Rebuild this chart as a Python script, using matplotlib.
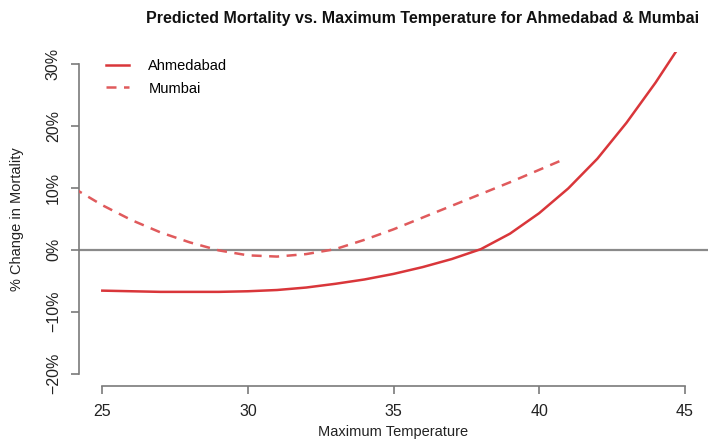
import matplotlib
matplotlib.use("Agg")
import matplotlib.pyplot as plt
from matplotlib.ticker import FuncFormatter

# values
ahm_temp = [25, 26, 27, 28, 29, 30, 31, 32, 33, 34, 35, 36, 37, 38, 39, 40, 41, 42, 43, 44, 44.7]
ahm_change = [-6.6, -6.7, -6.8, -6.8, -6.8, -6.7, -6.5, -6.1, -5.5, -4.8, -3.9, -2.8, -1.5, 0.1,
              2.6, 5.9, 9.9, 14.7, 20.5, 27.0, 32.0]

mum_temp = [24, 25, 26, 27, 28, 29, 30, 31, 32, 33, 34, 35, 36, 37, 38, 39, 40, 40.8]
mum_change = [10.0, 7.2, 4.8, 2.8, 1.2, -0.1, -0.9, -1.1, -0.7, 0.1, 1.6, 3.3, 5.2, 7.1, 9.0,
              10.9, 12.9, 14.5]

x_ticks = [25, 30, 35, 40, 45]
y_ticks = [-20, -10, 0, 10, 20, 30]

plt.rcParams["font.family"] = ["Liberation Sans", "DejaVu Sans"]

fig = plt.figure(figsize=(7.08, 4.41), dpi=100)
ax = fig.add_axes([79 / 708, 1 - 386 / 441, 1 - 79 / 708, (386 - 51.6) / 441])

ax.axhline(0, color="#8a8a8a", lw=1.6, zorder=1)
ax.plot(ahm_temp, ahm_change, color="#d9363a", lw=1.8, label="Ahmedabad", zorder=3)
ax.plot(mum_temp, mum_change, color="#e05a5c", lw=1.8, ls=(0, (4, 3)), label="Mumbai", zorder=3)

ax.set_xlim(24.2, 45.8)
ax.set_ylim(-22, 32)

for side in ["top", "right"]:
    ax.spines[side].set_visible(False)
ax.spines["left"].set_bounds(-20, 30)
ax.spines["bottom"].set_bounds(25, 45)
for side in ["left", "bottom"]:
    ax.spines[side].set_color("#7a7a7a")
    ax.spines[side].set_linewidth(1.2)

ax.set_xticks(x_ticks)
ax.set_yticks(y_ticks)
ax.yaxis.set_major_formatter(FuncFormatter(lambda v, p: f"{v:.0f}%".replace("-", "\u2212")))
ax.tick_params(axis="both", length=6, width=1.2, color="#7a7a7a", labelsize=11.5,
               labelcolor="#222222", pad=7)
for lab in ax.get_yticklabels():
    lab.set_rotation(90)
    lab.set_va("center")

ax.set_xlabel("Maximum Temperature", fontsize=10.5, color="#222222", labelpad=4)
ax.set_ylabel("% Change in Mortality", fontsize=10.5, color="#222222", labelpad=16)
fig.text(423 / 708, 1 - 18 / 441, "Predicted Mortality vs. Maximum Temperature for Ahmedabad & Mumbai",
         ha="center", va="center", fontsize=11.5, fontweight="bold", color="#111111")

ax.legend(loc="upper left", bbox_to_anchor=(0.02, 1.02), frameon=False, fontsize=10.5,
          handlelength=1.6, labelspacing=0.55, handletextpad=1.3, borderaxespad=0.6)

fig.savefig("out.png", dpi=100)
